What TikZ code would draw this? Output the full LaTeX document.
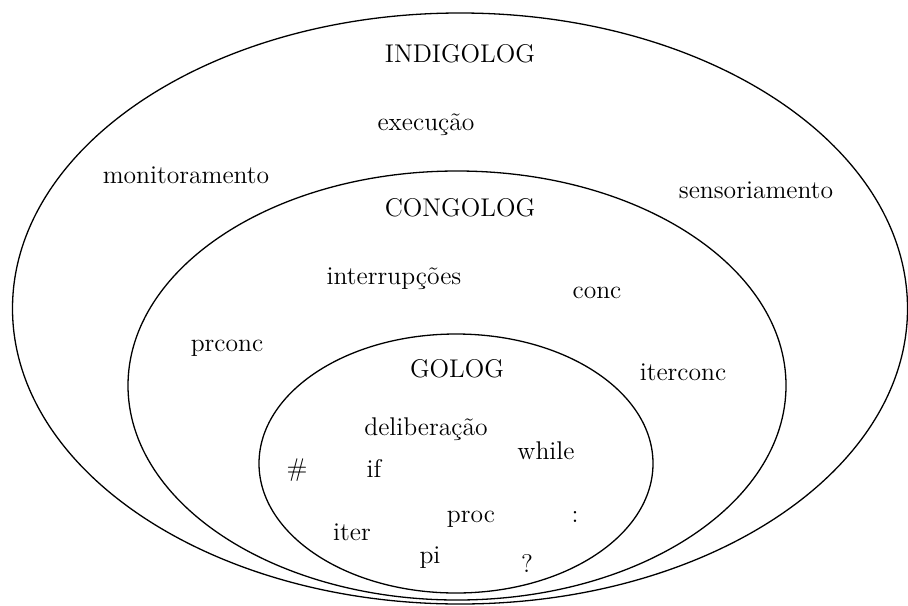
\documentclass[tikz,border=0pt]{standalone}
\begin{document}
\begin{tikzpicture}[x=0.5pt,y=-0.5pt,
  ring/.style={draw=black,line width=0.65pt},
  lbl/.style={anchor=base,inner sep=0pt,font=\fontsize{12.8}{15}\selectfont}]
\useasboundingbox (0,0) rectangle (908,605);
% nested language scopes
\draw[ring] (460,308.5) ellipse [x radius=447.5, y radius=295.5];
\draw[ring] (457,385.5) ellipse [x radius=329, y radius=214.5];
\draw[ring] (456,463.5) ellipse [x radius=197, y radius=129.5];
% IndiGolog
\node[lbl] (indigolog) at (460,62) {INDIGOLOG};
\node[lbl] (execucao) at (426,130) {execução};
\node[lbl] (monit) at (186,183) {monitoramento};
\node[lbl] (sensor) at (756,198) {sensoriamento};
% ConGolog
\node[lbl] (congolog) at (460,216) {CONGOLOG};
\node[lbl] (interr) at (394,284) {interrupções};
\node[lbl] (conc) at (597,298) {conc};
\node[lbl] (prconc) at (227,351) {prconc};
\node[lbl] (iterconc) at (683,380) {iterconc};
% Golog
\node[lbl] (golog) at (457,377) {GOLOG};
\node[lbl] (delib) at (426,435) {deliberação};
\node[lbl] (while) at (546,459) {while};
\node[lbl] (hash) at (297,476) {\#};
\node[lbl] (if) at (374,477) {if};
\node[lbl] (proc) at (471,522) {proc};
\node[lbl] (colon) at (575,522) {:};
\node[lbl] (iter) at (352,540) {iter};
\node[lbl] (pi) at (430,563) {pi};
\node[lbl] (quest) at (527,572) {?};
\end{tikzpicture}
\end{document}
